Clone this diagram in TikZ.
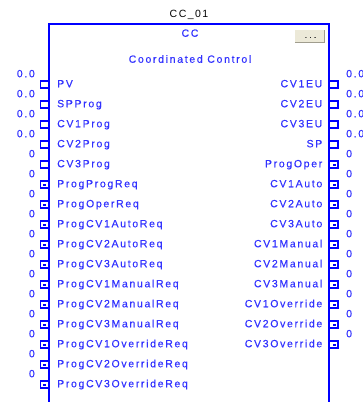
\documentclass[tikz,border=0pt]{standalone}
\usepackage{fontspec}
\setmainfont{Liberation Sans}
\newfontfamily\labfont[LetterSpace=16,FakeBold=0.35]{Liberation Sans}
\newfontfamily\titlefont[LetterSpace=14]{Liberation Sans}
\newfontfamily\btnfont[LetterSpace=30,FakeBold=0.4]{Liberation Sans}
\definecolor{pinblue}{RGB}{0,0,255}
\definecolor{txtblue}{RGB}{50,50,255}
\definecolor{btnfill}{RGB}{236,233,216}
\definecolor{btnshadow}{RGB}{160,157,142}
\begin{document}
\begin{tikzpicture}[x=1pt,y=-1pt,
  lbl/.style={font=\labfont\fontsize{10.5}{12}\selectfont, text=txtblue, inner sep=0pt, text height=7.5pt, text depth=0pt},
  pinline/.style={draw=pinblue, line width=1.1pt},
  boxline/.style={draw=pinblue, line width=1.5pt}]
\useasboundingbox (0,0) rectangle (363,402);
\clip (0,0) rectangle (363,402);
\draw[boxline] (49,404) -- (49,24) -- (329,24) -- (329,404);
\node[lbl, font=\titlefont\fontsize{10.5}{12}\selectfont, text=black] (title) at (189,14) {CC\_01};
\node[lbl] (cc) at (190,33) {CC};
\node[lbl] (desc) at (190,59) {Coordinated Control};
% button
\fill[btnfill] (295,30) rectangle (324,43);
\draw[btnshadow, line width=1pt] (295,42.5) -- (324.5,42.5) -- (324.5,30);
\node[inner sep=0pt, font=\btnfont\fontsize{8}{9}\selectfont, text={rgb,255:red,40;green,40;blue,40}] (btn) at (310.5,37.5) {...};
% left pins
\foreach \t/\v/\b [count=\i from 0] in {PV/0.0/0, SPProg/0.0/0, CV1Prog/0.0/0, CV2Prog/0.0/0, CV3Prog/0/0,
  ProgProgReq/0/1, ProgOperReq/0/1, ProgCV1AutoReq/0/1, ProgCV2AutoReq/0/1, ProgCV3AutoReq/0/1,
  ProgCV1ManualReq/0/1, ProgCV2ManualReq/0/1, ProgCV3ManualReq/0/1,
  ProgCV1OverrideReq/0/1, ProgCV2OverrideReq/0/1, ProgCV3OverrideReq/0/1}{
  \pgfmathsetmacro{\yy}{83.5+20*\i}
  \node[lbl, anchor=west] (L\i) at (57,\yy) {\t};
  \node[lbl, anchor=east] (LV\i) at (35,\yy-10) {\v};
  \draw[pinline] (49,\yy-2.5) -- (40.5,\yy-2.5) -- (40.5,\yy+4.5) -- (49,\yy+4.5);
  \ifnum\b=1 \fill[pinblue] (43,\yy) rectangle (45.5,\yy+2); \fi
}
% right pins
\foreach \t/\v/\b [count=\i from 0] in {CV1EU/0.0/0, CV2EU/0.0/0, CV3EU/0.0/0, SP/0.0/0,
  ProgOper/0/1, CV1Auto/0/1, CV2Auto/0/1, CV3Auto/0/1,
  CV1Manual/0/1, CV2Manual/0/1, CV3Manual/0/1,
  CV1Override/0/1, CV2Override/0/1, CV3Override/0/1}{
  \pgfmathsetmacro{\yy}{83.5+20*\i}
  \node[lbl, anchor=east] (R\i) at (322.5,\yy) {\t};
  \node[lbl, anchor=west] (RV\i) at (346,\yy-10) {\v};
  \draw[pinline] (329,\yy-2.5) -- (338,\yy-2.5) -- (338,\yy+4.5) -- (329,\yy+4.5);
  \ifnum\b=1 \fill[pinblue] (333,\yy) rectangle (336,\yy+2); \fi
}
\end{tikzpicture}
\end{document}
